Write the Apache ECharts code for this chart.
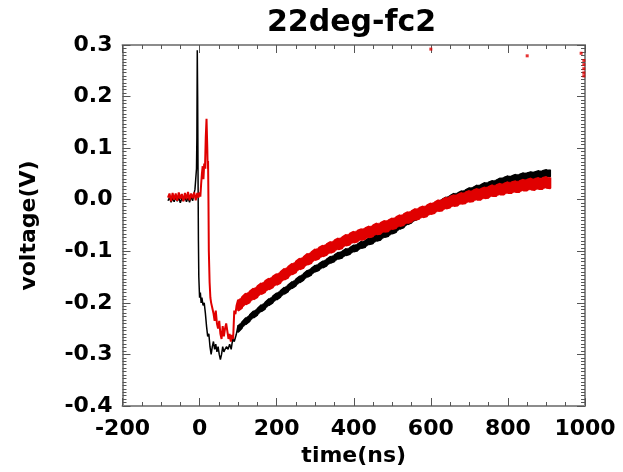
<!DOCTYPE html>
<html>
<head>
<meta charset="utf-8">
<script src="https://cdn.jsdelivr.net/npm/echarts@6/dist/echarts.min.js"></script>
<style>
html,body{margin:0;padding:0;background:#fff;}
#chart{width:623px;height:472px;}
</style>
</head>
<body>
<div id="chart"></div>
<script>
// ---- data ----
var titleText = "22deg-fc2";
var xName = "time(ns)";
var yName = "voltage(V)";
var xTicks = [-200, 0, 200, 400, 600, 800, 1000];
var yTicks = [-0.4, -0.3, -0.2, -0.1, 0.0, 0.1, 0.2, 0.3];

// black trace: early part (baseline, spike, dip)
var blackT1 = [-82,-78,-74,-70,-66,-62,-58,-54,-50,-46,-42,-38,-34,-30,-26,-22,-18,-15,-12,-10,-8,-7,-6,-5,-4,-3,-2,0,2,4,6,9,12,15,18,21,24,27,30,33,36,39,42,45,48,51,54,57,60,63,66,70,74,78,82,86,90,95];
var blackV1 = [-0.002,0.004,-0.005,0.003,-0.004,0.005,-0.003,0.004,-0.006,0.003,-0.002,0.005,-0.004,0.004,-0.005,0.006,-0.002,0.010,0.020,0.040,0.060,0.120,0.290,0.200,0.050,-0.080,-0.150,-0.190,-0.180,-0.200,-0.190,-0.205,-0.200,-0.220,-0.245,-0.265,-0.260,-0.285,-0.300,-0.285,-0.275,-0.290,-0.280,-0.295,-0.285,-0.300,-0.310,-0.300,-0.285,-0.295,-0.290,-0.285,-0.290,-0.280,-0.290,-0.270,-0.275,-0.262];
// recovery part, sampled every 10 ns from 100 to 910: upper and lower edge of each noisy band
var lateT = [100,110,120,130,140,150,160,170,180,190,200,210,220,230,240,250,260,270,280,290,300,310,320,330,340,350,360,370,380,390,400,410,420,430,440,450,460,470,480,490,500,510,520,530,540,550,560,570,580,590,600,610,620,630,640,650,660,670,680,690,700,710,720,730,740,750,760,770,780,790,800,810,820,830,840,850,860,870,880,890,900,910];
var blackHi = [-0.243,-0.237,-0.229,-0.223,-0.216,-0.211,-0.204,-0.199,-0.192,-0.187,-0.181,-0.176,-0.170,-0.165,-0.159,-0.154,-0.148,-0.143,-0.137,-0.133,-0.127,-0.124,-0.119,-0.115,-0.110,-0.107,-0.102,-0.100,-0.095,-0.093,-0.088,-0.086,-0.081,-0.079,-0.074,-0.072,-0.067,-0.065,-0.060,-0.058,-0.053,-0.050,-0.044,-0.041,-0.035,-0.032,-0.027,-0.023,-0.018,-0.014,-0.009,-0.006,-0.002,0.001,0.005,0.008,0.012,0.013,0.017,0.019,0.023,0.024,0.028,0.029,0.033,0.034,0.037,0.038,0.042,0.043,0.046,0.046,0.049,0.049,0.052,0.052,0.054,0.054,0.056,0.056,0.058,0.058];
var blackLo = [-0.257,-0.249,-0.242,-0.236,-0.229,-0.224,-0.217,-0.212,-0.205,-0.200,-0.194,-0.189,-0.183,-0.178,-0.172,-0.167,-0.161,-0.156,-0.150,-0.146,-0.140,-0.137,-0.132,-0.128,-0.123,-0.120,-0.115,-0.113,-0.108,-0.106,-0.101,-0.099,-0.094,-0.092,-0.087,-0.085,-0.080,-0.078,-0.073,-0.071,-0.066,-0.063,-0.057,-0.054,-0.048,-0.045,-0.040,-0.036,-0.031,-0.027,-0.022,-0.019,-0.015,-0.012,-0.008,-0.005,-0.001,0.000,0.004,0.006,0.010,0.011,0.015,0.016,0.020,0.021,0.024,0.025,0.029,0.030,0.033,0.033,0.036,0.036,0.039,0.039,0.041,0.041,0.043,0.043,0.045,0.045];

// red trace: early part
var redT1 = [-82,-78,-74,-70,-66,-62,-58,-54,-50,-46,-42,-38,-34,-30,-26,-22,-18,-14,-10,-6,-3,0,2,4,6,8,10,12,14,16,18,20,21,22,23,24,26,28,30,33,36,39,42,45,48,51,54,57,60,63,66,69,72,75,78,81,84,87,90,93,96];
var redV1 = [0.004,0.012,-0.003,0.013,0.000,0.012,-0.002,0.014,0.002,0.011,-0.003,0.013,0.001,0.015,-0.001,0.012,0.003,0.014,-0.001,0.013,0.004,0.014,0.006,0.030,0.050,0.065,0.040,0.070,0.060,0.120,0.157,0.100,0.060,0.075,0.000,-0.100,-0.160,-0.190,-0.200,-0.210,-0.220,-0.235,-0.215,-0.240,-0.250,-0.235,-0.260,-0.270,-0.245,-0.265,-0.250,-0.240,-0.255,-0.270,-0.260,-0.275,-0.262,-0.270,-0.215,-0.222,-0.205];
var redHi = [-0.194,-0.189,-0.182,-0.178,-0.172,-0.168,-0.162,-0.158,-0.153,-0.149,-0.144,-0.140,-0.134,-0.130,-0.124,-0.120,-0.114,-0.111,-0.105,-0.102,-0.096,-0.093,-0.089,-0.086,-0.082,-0.079,-0.075,-0.073,-0.068,-0.066,-0.062,-0.060,-0.057,-0.055,-0.052,-0.050,-0.046,-0.045,-0.041,-0.040,-0.036,-0.034,-0.030,-0.028,-0.024,-0.022,-0.018,-0.016,-0.013,-0.011,-0.007,-0.005,-0.001,0.000,0.004,0.006,0.009,0.010,0.013,0.014,0.017,0.018,0.021,0.021,0.024,0.025,0.028,0.028,0.031,0.031,0.034,0.034,0.036,0.036,0.039,0.039,0.041,0.040,0.042,0.042,0.044,0.043];
var redLo = [-0.215,-0.210,-0.203,-0.199,-0.193,-0.189,-0.183,-0.179,-0.174,-0.170,-0.165,-0.161,-0.155,-0.151,-0.145,-0.141,-0.135,-0.132,-0.126,-0.123,-0.117,-0.114,-0.110,-0.107,-0.103,-0.100,-0.096,-0.094,-0.089,-0.087,-0.083,-0.081,-0.078,-0.076,-0.073,-0.071,-0.067,-0.066,-0.062,-0.061,-0.057,-0.055,-0.051,-0.049,-0.045,-0.043,-0.039,-0.037,-0.034,-0.032,-0.028,-0.026,-0.022,-0.021,-0.017,-0.015,-0.012,-0.011,-0.008,-0.007,-0.004,-0.003,0.000,0.000,0.003,0.004,0.007,0.007,0.010,0.010,0.013,0.013,0.015,0.015,0.018,0.018,0.020,0.019,0.021,0.021,0.023,0.022];
// stray red samples near the top of the frame
var redOutT = [600, 850, 990, 997, 997, 997, 997, 997];
var redOutV = [0.292, 0.279, 0.284, 0.270, 0.262, 0.254, 0.246, 0.240];

function zip(t, v) { var o = []; for (var i = 0; i < t.length; i++) o.push([t[i], v[i]]); return o; }
function band(t, hi, lo) {
  var o = [];
  for (var i = 0; i < t.length; i++) {
    if (i % 2 === 0) { o.push([t[i], hi[i]]); o.push([t[i], lo[i]]); }
    else { o.push([t[i], lo[i]]); o.push([t[i], hi[i]]); }
  }
  return o;
}
function rows(t, hi, lo) { var o = []; for (var i = 0; i < t.length; i++) o.push([t[i], lo[i], hi[i]]); return o; }
var blackData = zip(blackT1, blackV1).concat(band(lateT, blackHi, blackLo));
var redData = zip(redT1, redV1).concat(band(lateT, redHi, redLo));
var redOut = zip(redOutT, redOutV);

// filled band between lower and upper edge, positioned through the axes
function bandSeries(t, hi, lo, color, z) {
  return {
    type: "custom", z: z, silent: true,
    data: rows(t, hi, lo),
    encode: { x: 0, y: [1, 2] },
    renderItem: function (params, api) {
      var i = params.dataIndex;
      if (i >= t.length - 1) return null;
      var p = [api.coord([t[i], hi[i]]), api.coord([t[i + 1], hi[i + 1]]),
               api.coord([t[i + 1], lo[i + 1]]), api.coord([t[i], lo[i]])];
      return { type: "polygon", shape: { points: p }, style: { fill: color, stroke: color, lineWidth: 0.5 } };
    }
  };
}

var FONT = "DejaVu Sans";
var axisLineStyle = { color: "#8c8c8c", width: 2 };
var tickStyle = { color: "#555", width: 1 };

function xAxisDef(pos, showLabels) {
  return {
    type: "value", position: pos, min: -200, max: 1000, interval: 200,
    name: showLabels ? xName : "", nameLocation: "middle", nameGap: 39,
    nameTextStyle: { fontFamily: FONT, fontWeight: "bold", fontSize: 22, color: "#000" },
    axisLine: { show: true, onZero: false, lineStyle: axisLineStyle },
    axisTick: { show: true, inside: true, length: 8, lineStyle: tickStyle },
    minorTick: { show: true, splitNumber: 4, length: 4, lineStyle: tickStyle },
    splitLine: { show: false },
    axisLabel: { show: showLabels, margin: 12, fontFamily: FONT, fontWeight: "bold", fontSize: 22, color: "#000",
      formatter: function (v) { return xTicks.indexOf(v) >= 0 ? String(v) : ""; } }
  };
}
function yAxisDef(pos, showLabels) {
  return {
    type: "value", position: pos, min: -0.4, max: 0.3, interval: 0.1,
    name: showLabels ? yName : "", nameLocation: "middle", nameGap: 82,
    nameTextStyle: { fontFamily: FONT, fontWeight: "bold", fontSize: 22, color: "#000" },
    axisLine: { show: true, onZero: false, lineStyle: axisLineStyle },
    axisTick: { show: true, inside: true, length: 8, lineStyle: tickStyle },
    minorTick: { show: true, splitNumber: 15, length: 4, lineStyle: tickStyle },
    splitLine: { show: false },
    axisLabel: { show: showLabels, margin: 10, fontFamily: FONT, fontWeight: "bold", fontSize: 22, color: "#000",
      formatter: function (v) { return (Math.round(v * 10) / 10).toFixed(1); } }
  };
}

var chart = echarts.init(document.getElementById("chart"), null, { renderer: "canvas" });
chart.setOption({
  animation: false,
  backgroundColor: "#fff",
  title: { text: titleText, left: 262, top: 3,
    textStyle: { fontFamily: FONT, fontWeight: "bold", fontSize: 30, color: "#000" } },
  grid: { left: 122.5, right: 38, top: 45, bottom: 65.5, containLabel: false },
  xAxis: [xAxisDef("bottom", true), xAxisDef("top", false)],
  yAxis: [yAxisDef("left", true), yAxisDef("right", false)],
  series: [
    bandSeries(lateT, blackHi, blackLo, "#000", 1),
    { type: "line", data: blackData, showSymbol: false, symbol: "none",
      lineStyle: { color: "#000", width: 1.5 }, z: 2 },
    bandSeries(lateT, redHi, redLo, "#e00000", 3),
    { type: "line", data: redData, showSymbol: false, symbol: "none",
      lineStyle: { color: "#e00000", width: 2 }, z: 4 },
    { type: "scatter", data: redOut, symbol: "rect", symbolSize: 3,
      itemStyle: { color: "#e00000" }, z: 5 }
  ]
});
</script>
</body>
</html>
